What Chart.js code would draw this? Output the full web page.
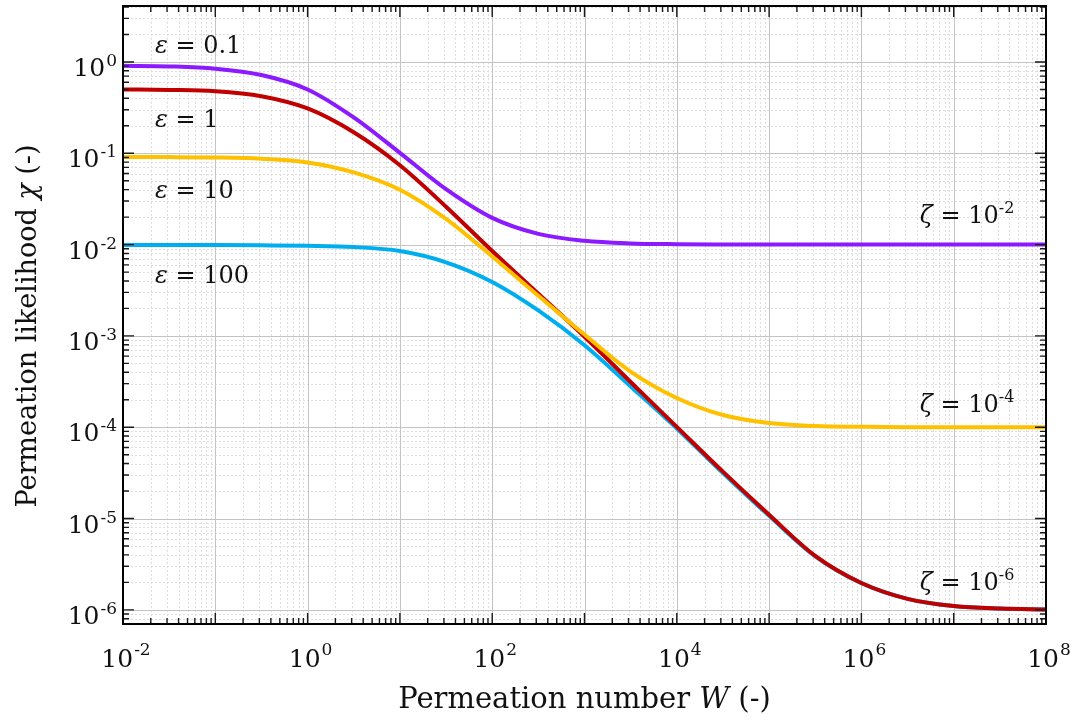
<!DOCTYPE html>
<html>
<head>
<meta charset="utf-8">
<script src="https://cdn.jsdelivr.net/npm/chart.js@4.4.0/dist/chart.umd.min.js"></script>
<style>
  html, body { margin: 0; padding: 0; background: #fff; }
  #wrap { width: 1076px; height: 722px; position: relative; }
</style>
</head>
<body>
<div id="wrap"><canvas id="chartLine"></canvas></div>
<script>
// permeation number W, sampled every half decade
const W_VALUES = [1e-2, 3.16e-2, 1e-1, 3.16e-1, 1, 3.16, 10, 31.6, 100, 316, 1e3, 3.16e3,
                  1e4, 3.16e4, 1e5, 3.16e5, 1e6, 3.16e6, 1e7, 3.16e7, 1e8];

// permeation likelihood chi
const CHI_EPS_01  = [0.91, 0.894, 0.845, 0.72, 0.50, 0.247, 0.101, 0.0404, 0.0196, 0.0131, 0.0110, 0.0103,
                     0.0101, 0.01003, 0.0100, 0.0100, 0.0100, 0.0100, 0.0100, 0.0100, 0.0100];
const CHI_EPS_1   = [0.50, 0.494, 0.479, 0.422, 0.31, 0.17, 0.074, 0.026, 0.0085, 0.0029, 0.00098, 0.000313,
                     1.01e-4, 3.26e-5, 1.1e-5, 3.9e-6, 1.97e-6, 1.32e-6, 1.1e-6, 1.032e-6, 1.01e-6];
const CHI_EPS_10  = [0.091, 0.0908, 0.0899, 0.0871, 0.0794, 0.0617, 0.0398, 0.0191, 0.0074, 0.00275, 0.001035, 0.000407,
                     2.09e-4, 1.36e-4, 1.11e-4, 1.03e-4, 1.01e-4, 1.0e-4, 1.0e-4, 1.0e-4, 1.0e-4];
const CHI_EPS_100 = [0.0099, 0.0099, 0.00989, 0.00982, 0.0097, 0.0094, 0.0085, 0.0064, 0.0039, 0.0019, 0.00079, 0.00028,
                     9.7e-5, 3.15e-5, 1.07e-5, 3.85e-6, 1.96e-6, 1.32e-6, 1.1e-6, 1.032e-6, 1.01e-6];

const SERIES_NAMES = ['ε = 0.1', 'ε = 1', 'ε = 10', 'ε = 100'];
const ZETA_EXPONENTS = ['-2', '-4', '-6'];

const X_DECADES = [-2, 0, 2, 4, 6, 8];
const Y_DECADES = [0, -1, -2, -3, -4, -5, -6];

const FONT = '"DejaVu Serif", serif';

const toPoints = (arr) => W_VALUES.map((w, i) => ({x: w, y: arr[i]}));

// every 1..9 x 10^k inside [lo, hi]
const logSteps = (lo, hi) => {
    let out = [];
    for (let k = Math.floor(Math.log10(lo)); k <= Math.ceil(Math.log10(hi)); k++) {
        for (let m = 1; m <= 9; m++) {
            let v = m * Math.pow(10, k);
            if (v >= lo * 0.999 && v <= hi * 1.001) out.push({v: v, major: m == 1});
        }
    }
    return out;
}

const drawPower = (ctx, exp, x, y, align, baseSize, expSize, raise) => {
    ctx.font = `${baseSize}px ${FONT}`;
    let wb = ctx.measureText('10').width;
    ctx.font = `${expSize}px ${FONT}`;
    let we = ctx.measureText(exp).width;
    let total = wb + we + 1;
    let left = align == 'right' ? x - total : x - total / 2;
    ctx.textAlign = 'left';
    ctx.textBaseline = 'alphabetic';
    ctx.font = `${baseSize}px ${FONT}`;
    ctx.fillText('10', left, y);
    ctx.font = `${expSize}px ${FONT}`;
    ctx.fillText(exp, left + wb + 1, y - raise);
}

// runs: [text, font, dy]
const drawRuns = (ctx, runs, x, y, center) => {
    let widths = runs.map(r => { ctx.font = r[1]; return ctx.measureText(r[0]).width; });
    let total = widths.reduce((a, b) => a + b, 0);
    let cx = center ? x - total / 2 : x;
    ctx.textAlign = 'left';
    ctx.textBaseline = 'alphabetic';
    runs.forEach((r, i) => {
        ctx.font = r[1];
        ctx.fillText(r[0], cx, y - (r[2] || 0));
        cx += widths[i];
    });
}

const logAxes = {
    id: 'logAxes',
    beforeDatasetsDraw(chart) {
        const {ctx, chartArea: a, scales: {x, y}} = chart;
        ctx.save();
        ctx.lineWidth = 1;
        [false, true].forEach(major => {
            ctx.strokeStyle = major ? '#c4c4c4' : '#dedede';
            ctx.setLineDash(major ? [] : [2, 2]);
            logSteps(x.min, x.max).filter(t => t.major == major).forEach(t => {
                let px = Math.round(x.getPixelForValue(t.v)) + 0.5;
                ctx.beginPath(); ctx.moveTo(px, a.top); ctx.lineTo(px, a.bottom); ctx.stroke();
            });
            logSteps(y.min, y.max).filter(t => t.major == major).forEach(t => {
                let py = Math.round(y.getPixelForValue(t.v)) + 0.5;
                ctx.beginPath(); ctx.moveTo(a.left, py); ctx.lineTo(a.right, py); ctx.stroke();
            });
        });
        ctx.restore();
    },
    afterDatasetsDraw(chart) {
        const {ctx, chartArea: a, scales: {x, y}} = chart;
        ctx.save();
        ctx.setLineDash([]);
        ctx.strokeStyle = '#1a1a1a';
        ctx.lineWidth = 1.4;
        // inward ticks on all four sides
        logSteps(x.min, x.max).forEach(t => {
            let px = x.getPixelForValue(t.v);
            let len = t.major ? 11 : 6;
            ctx.beginPath();
            ctx.moveTo(px, a.bottom); ctx.lineTo(px, a.bottom - len);
            ctx.moveTo(px, a.top); ctx.lineTo(px, a.top + len);
            ctx.stroke();
        });
        logSteps(y.min, y.max).forEach(t => {
            let py = y.getPixelForValue(t.v);
            let len = t.major ? 11 : 6;
            ctx.beginPath();
            ctx.moveTo(a.left, py); ctx.lineTo(a.left + len, py);
            ctx.moveTo(a.right, py); ctx.lineTo(a.right - len, py);
            ctx.stroke();
        });
        ctx.lineWidth = 2;
        ctx.strokeStyle = '#000';
        ctx.strokeRect(a.left, a.top, a.right - a.left, a.bottom - a.top);

        // tick labels
        ctx.fillStyle = '#111';
        X_DECADES.forEach(k => {
            drawPower(ctx, String(k), x.getPixelForValue(Math.pow(10, k)) + 3, a.bottom + 43, 'center', 25, 17, 12);
        });
        Y_DECADES.forEach(k => {
            drawPower(ctx, String(k), a.left - 6, y.getPixelForValue(Math.pow(10, k)) + 14, 'right', 25, 17, 10);
        });

        // axis titles
        const t = `29px ${FONT}`, ti = `italic 29px ${FONT}`;
        drawRuns(ctx, [['Permeation number ', t], ['W', ti], [' (-)', t]],
                 (a.left + a.right) / 2, a.bottom + 84, true);
        ctx.save();
        ctx.translate(36, (a.top + a.bottom) / 2 + 11);
        ctx.rotate(-Math.PI / 2);
        const s = `27px ${FONT}`, si = `italic 27px ${FONT}`;
        drawRuns(ctx, [['Permeation likelihood ', s], ['χ', si], [' (-)', s]], 0, 0, true);
        ctx.restore();

        // curve annotations
        const f = `24px ${FONT}`, fi = `italic 24px ${FONT}`;
        const epsY = [1.25, 0.194, 0.0324, 0.0038];
        SERIES_NAMES.forEach((name, i) => {
            drawRuns(ctx, [['ε', fi], [name.slice(1), f]],
                     x.getPixelForValue(0.0222), y.getPixelForValue(epsY[i]));
        });
        const zetaY = [0.01725, 1.47e-4, 1.65e-6];
        ZETA_EXPONENTS.forEach((e, i) => {
            drawRuns(ctx, [['ζ', fi], [' = 10', f], [e, `16px ${FONT}`, 10]],
                     x.getPixelForValue(4.3e6), y.getPixelForValue(zetaY[i]));
        });
        ctx.restore();
    }
};

const ctx = document.getElementById('chartLine').getContext('2d');

const line = (label, values, color) => ({
    label: label,
    data: toPoints(values),
    borderColor: color,
    backgroundColor: color,
    borderWidth: 4,
    pointRadius: 0,
    cubicInterpolationMode: 'monotone',
    fill: false
});

const chart = new Chart(ctx, {
    type: 'line',
    data: {
        datasets: [
            line(SERIES_NAMES[0], CHI_EPS_01, 'rgb(140, 26, 255)'),
            line(SERIES_NAMES[2], CHI_EPS_10, 'rgb(255, 192, 0)'),
            line(SERIES_NAMES[1], CHI_EPS_1, 'rgb(192, 0, 0)'),
            line(SERIES_NAMES[3], CHI_EPS_100, 'rgb(0, 174, 239)')
        ]
    },
    options: {
        responsive: true,
        maintainAspectRatio: false,
        animation: false,
        layout: { padding: { left: 123, right: 30, top: 6, bottom: 98 } },
        scales: {
            x: { type: 'logarithmic', min: 1e-2, max: 1e8, display: false },
            y: { type: 'logarithmic', min: 7e-7, max: 4.1, display: false }
        },
        plugins: {
            legend: { display: false },
            tooltip: { enabled: false }
        }
    },
    plugins: [logAxes]
});
</script>
</body>
</html>
